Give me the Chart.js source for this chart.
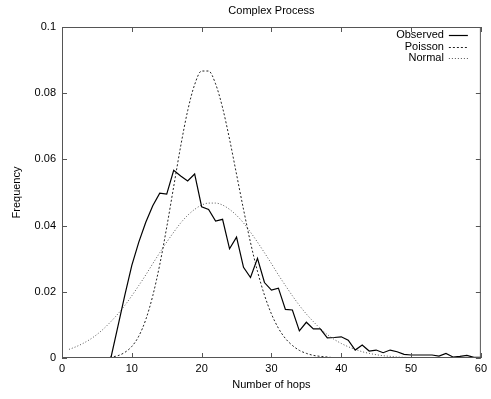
<!DOCTYPE html>
<html>
<head>
<meta charset="utf-8">
<script src="https://cdn.jsdelivr.net/npm/chart.js@4.4.0/dist/chart.umd.min.js"></script>
<style>
    html, body { margin: 0; padding: 0; background: #fff; }
</style>
</head>
<body>
<canvas id="myChart" width="491" height="399"></canvas>
<script>
const hops = [
    0, 1, 2, 3, 4, 5, 6, 7, 8, 9, 10, 11, 12, 13, 14, 15, 16, 17, 18, 19, 20,
    21, 22, 23, 24, 25, 26, 27, 28, 29, 30, 31, 32, 33, 34, 35, 36, 37, 38, 39, 40,
    41, 42, 43, 44, 45, 46, 47, 48, 49, 50, 51, 52, 53, 54, 55, 56, 57, 58, 59, 60
];

const observed = [
    0, 0, 0, 0, 0, 0, 0, 0, 0.0095, 0.019, 0.028,
    0.035, 0.041, 0.046, 0.0498, 0.0495, 0.0567, 0.055, 0.0535, 0.0556, 0.0457,
    0.0449, 0.0414, 0.0419, 0.033, 0.0365, 0.0274, 0.0243, 0.0301, 0.0228, 0.0205,
    0.0211, 0.0147, 0.0145, 0.0082, 0.0108, 0.0088, 0.0088, 0.0061, 0.0062, 0.0064,
    0.0054, 0.0024, 0.0039, 0.0021, 0.0024, 0.0016, 0.0024, 0.0019, 0.0011, 0.0009,
    0.0009, 0.0009, 0.0009, 0.0006, 0.0014, 0.0003, 0.0005, 0.0008, 0.0002, 0.0002
];

const poisson = [
    0, 0, 0, 0, 0, 0, 0, 0.0003, 0.0007, 0.0017, 0.0035,
    0.0066, 0.0116, 0.0188, 0.0282, 0.0395, 0.0518, 0.064, 0.0747, 0.0826, 0.0867,
    0.0867, 0.0828, 0.0756, 0.0661, 0.0555, 0.0449, 0.0349, 0.0262, 0.019, 0.0133,
    0.009, 0.0059, 0.0038, 0.0023, 0.0014, 0.0008, 0.0005, 0.0003, 0.0001, 0.0001,
    0, 0, 0, 0, 0, 0, 0, 0, 0, 0,
    0, 0, 0, 0, 0, 0, 0, 0, 0, 0
];

// normal curve starts at 1 hop
const normalHops = hops.slice(1);
const normal = [
    0.0026, 0.0034, 0.0044, 0.0056, 0.0071, 0.0089, 0.011, 0.0133, 0.0159, 0.0188,
    0.0219, 0.0251, 0.0285, 0.0318, 0.035, 0.038, 0.0408, 0.0431, 0.0449, 0.0462,
    0.0468, 0.0468, 0.0462, 0.0449, 0.0431, 0.0408, 0.038, 0.035, 0.0318, 0.0285,
    0.0251, 0.0219, 0.0188, 0.0159, 0.0133, 0.011, 0.0089, 0.0071, 0.0056, 0.0044,
    0.0034, 0.0026, 0.0019, 0.0014, 0.001, 0.0007, 0.0005, 0.0003, 0.0002, 0.0001,
    0.0001, 0, 0, 0, 0, 0, 0, 0, 0, 0
];

const xTicks = [0, 10, 20, 30, 40, 50, 60];
const yTicks = [0, 0.02, 0.04, 0.06, 0.08, 0.1];

const font = "'Liberation Sans', Arial, sans-serif";

const toPoints = (xs, ys) => xs.map((x, i) => ({x: x, y: ys[i]}));

// gnuplot style frame: border, inward ticks on all sides, title and legend
const gnuplotFrame = {
    id: 'gnuplotFrame',
    afterDatasetsDraw(chart) {
        const {ctx, chartArea: a, scales: {x, y}} = chart;
        ctx.save();
        ctx.strokeStyle = '#555';
        ctx.lineWidth = 1;
        ctx.strokeRect(a.left + 0.5, a.top + 0.5, a.width - 1, a.height - 1);

        ctx.beginPath();
        xTicks.forEach(v => {
            const px = Math.round(x.getPixelForValue(v)) + 0.5;
            ctx.moveTo(px, a.bottom); ctx.lineTo(px, a.bottom - 5);
            ctx.moveTo(px, a.top); ctx.lineTo(px, a.top + 5);
        });
        yTicks.forEach(v => {
            const py = Math.round(y.getPixelForValue(v)) + 0.5;
            ctx.moveTo(a.left, py); ctx.lineTo(a.left + 5, py);
            ctx.moveTo(a.right, py); ctx.lineTo(a.right - 5, py);
        });
        ctx.stroke();

        // title
        ctx.fillStyle = '#000';
        ctx.font = '11px ' + font;
        ctx.textAlign = 'center';
        ctx.textBaseline = 'middle';
        ctx.fillText('Complex Process', (a.left + a.right) / 2, 11);

        // legend
        ctx.textAlign = 'right';
        chart.data.datasets.forEach((ds, i) => {
            const ly = a.top + 8 + i * 11.5;
            ctx.fillStyle = '#000';
            ctx.fillText(ds.label, a.right - 37, ly);
            ctx.strokeStyle = ds.borderColor;
            ctx.lineWidth = ds.borderWidth;
            ctx.setLineDash(ds.borderDash || []);
            ctx.beginPath();
            ctx.moveTo(a.right - 32, Math.round(ly) + 0.5);
            ctx.lineTo(a.right - 13, Math.round(ly) + 0.5);
            ctx.stroke();
        });
        ctx.restore();
    }
};

let ctx = document.getElementById('myChart');
let config = {
    type: 'line',
    data: {
        datasets: [
            {
                label: 'Observed',
                data: toPoints(hops, observed),
                borderColor: '#000',
                borderWidth: 1.2,
                pointRadius: 0,
                tension: 0
            },
            {
                label: 'Poisson',
                data: toPoints(hops, poisson),
                borderColor: '#222',
                borderWidth: 1,
                borderDash: [2, 2],
                pointRadius: 0,
                cubicInterpolationMode: 'monotone'
            },
            {
                label: 'Normal',
                data: toPoints(normalHops, normal),
                borderColor: '#555',
                borderWidth: 1,
                borderDash: [1, 2],
                pointRadius: 0,
                cubicInterpolationMode: 'monotone'
            }
        ]
    },
    options: {
        responsive: false,
        animation: false,
        layout: { padding: { top: 27, right: 8, left: 0, bottom: 0 } },
        plugins: {
            legend: { display: false },
            tooltip: { enabled: false }
        },
        scales: {
            x: {
                type: 'linear',
                min: 0,
                max: 60,
                afterFit: scale => { scale.height = 41; },
                afterBuildTicks: scale => { scale.ticks = xTicks.map(v => ({value: v})); },
                grid: { display: false, drawTicks: false },
                border: { display: false },
                ticks: { color: '#000', padding: 4, font: { family: font, size: 11 } },
                title: {
                    display: true,
                    text: 'Number of hops',
                    color: '#000',
                    font: { family: font, size: 11 },
                    padding: { top: 0, bottom: 7 }
                }
            },
            y: {
                min: 0,
                max: 0.1,
                afterFit: scale => { scale.width = 62; },
                afterBuildTicks: scale => { scale.ticks = yTicks.map(v => ({value: v})); },
                grid: { display: false, drawTicks: false },
                border: { display: false },
                ticks: {
                    color: '#000',
                    padding: 6,
                    font: { family: font, size: 11 },
                    callback: v => String(+v.toFixed(2))
                },
                title: {
                    display: true,
                    text: 'Frequency',
                    color: '#000',
                    font: { family: font, size: 11 },
                    padding: { top: 10, bottom: 0 }
                }
            }
        }
    },
    plugins: [gnuplotFrame]
};
let myChart = new Chart(ctx, config);
</script>
</body>
</html>
